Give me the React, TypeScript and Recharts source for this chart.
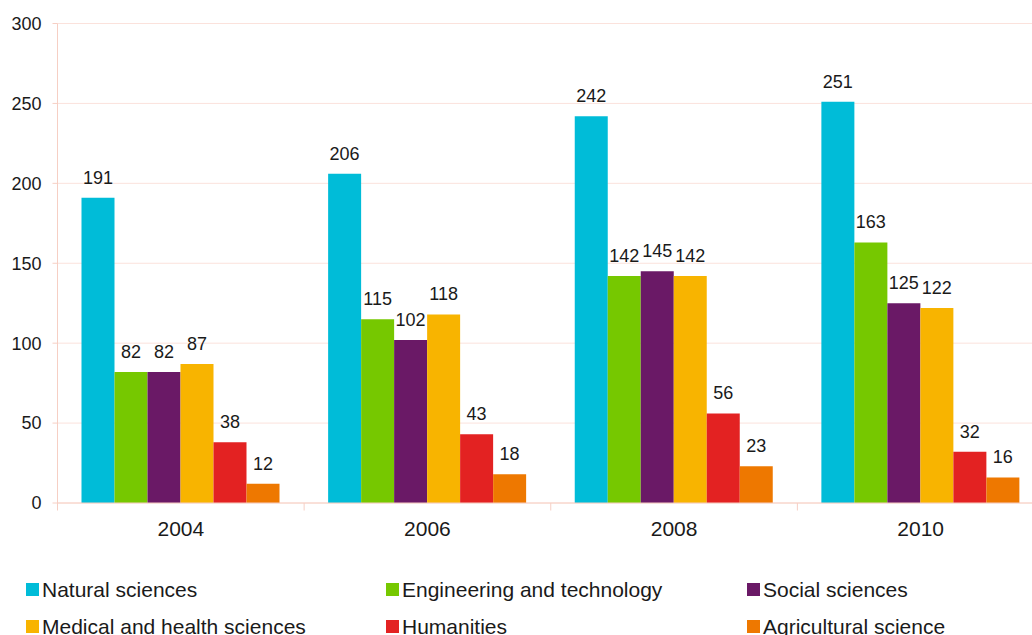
import { BarChart, Bar, XAxis, YAxis, CartesianGrid, Legend, LabelList } from 'recharts';

const years = ['2004', '2006', '2008', '2010'];
const natural = [191, 206, 242, 251];
const engineering = [82, 115, 142, 163];
const social = [82, 102, 145, 125];
const medical = [87, 118, 142, 122];
const humanities = [38, 43, 56, 32];
const agricultural = [12, 18, 23, 16];
const yTicks = [0, 50, 100, 150, 200, 250, 300];

const SERIES = [
  { key: 'natural', name: 'Natural sciences', color: '#00BCD8', values: natural },
  { key: 'engineering', name: 'Engineering and technology', color: '#76C800', values: engineering },
  { key: 'social', name: 'Social sciences', color: '#6A1966', values: social },
  { key: 'medical', name: 'Medical and health sciences', color: '#F8B400', values: medical },
  { key: 'humanities', name: 'Humanities', color: '#E32222', values: humanities },
  { key: 'agricultural', name: 'Agricultural science', color: '#EE7800', values: agricultural },
];

const data = years.map((year, i) => {
  const row: any = { year };
  SERIES.forEach((s) => (row[s.key] = s.values[i]));
  return row;
});

const FONT = '"Liberation Sans", Arial, sans-serif';
const AXIS_COLOR = '#f6cfc4';
const GRID_COLOR = '#fbe2dc';
const CHART_W = 1044;
const Y_AXIS_W = 57.5;
const BAND = (CHART_W - Y_AXIS_W) / years.length;

// category ticks sit between groups, not under them
function YearTick(props: any) {
  const { x, y, payload, index } = props;
  const left = x - BAND / 2;
  return (
    <g>
      <line x1={left} y1={y - 18.5} x2={left} y2={y - 11} stroke={AXIS_COLOR} />
      {index === years.length - 1 && (
        <line x1={left + BAND} y1={y - 18.5} x2={left + BAND} y2={y - 11} stroke={AXIS_COLOR} />
      )}
      <text x={x} y={y} dy="0.71em" textAnchor="middle" fontSize={21} fill="#1a1a1a" fontFamily={FONT}>
        {payload.value}
      </text>
    </g>
  );
}

function LegendBox() {
  return (
    <div
      style={{
        height: 82,
        boxSizing: 'border-box',
        paddingTop: 18,
        paddingLeft: 26,
        display: 'grid',
        gridTemplateColumns: '360px 361px 300px',
        gridAutoRows: '37px',
        fontFamily: FONT,
        fontSize: 21,
        color: '#1a1a1a',
      }}
    >
      {SERIES.map((s) => (
        <div key={s.key} style={{ display: 'flex', alignItems: 'center', whiteSpace: 'nowrap' }}>
          <span style={{ width: 13, height: 13, background: s.color, marginRight: 3, flex: 'none' }} />
          {s.name}
        </div>
      ))}
    </div>
  );
}

export default function App() {
  return (
    <div style={{ position: 'absolute', left: 0, top: 0, width: 1032, height: 635, overflow: 'hidden', background: '#fff' }}>
      <BarChart
        width={CHART_W}
        height={635}
        data={data}
        margin={{ top: 23.5, right: 0, left: 0, bottom: 0 }}
        barCategoryGap={24}
        barGap={0}
      >
        <CartesianGrid vertical={false} stroke={GRID_COLOR} />
        <XAxis
          dataKey="year"
          height={50}
          stroke={AXIS_COLOR}
          tickLine={false}
          tickSize={8}
          tickMargin={10.5}
          tick={<YearTick />}
          interval={0}
        />
        <YAxis
          width={Y_AXIS_W}
          domain={[0, 300]}
          ticks={yTicks}
          stroke={AXIS_COLOR}
          tickSize={5}
          tickMargin={11}
          tick={{ fontSize: 18, fill: '#1a1a1a', fontFamily: FONT }}
        />
        <Legend verticalAlign="bottom" align="left" content={<LegendBox />} />
        {SERIES.map((s) => (
          <Bar key={s.key} dataKey={s.key} name={s.name} fill={s.color} isAnimationActive={false}>
            <LabelList
              dataKey={s.key}
              position="top"
              offset={14}
              fontSize={18}
              fill="#1a1a1a"
              fontFamily={FONT}
            />
          </Bar>
        ))}
      </BarChart>
    </div>
  );
}
